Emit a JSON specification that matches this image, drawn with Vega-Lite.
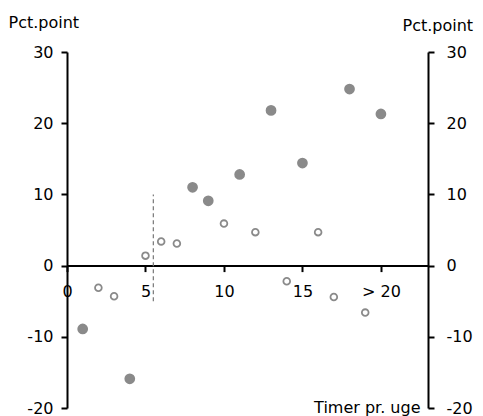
{
  "$schema": "https://vega.github.io/schema/vega-lite/v6.json",
  "width": 361,
  "height": 356,
  "autosize": "none",
  "padding": {"left": 67, "top": 52, "right": 55, "bottom": 8},
  "background": "white",
  "config": {
    "view": {"stroke": null},
    "font": "DejaVu Sans",
    "axis": {"grid": false, "labelFont": "DejaVu Sans", "titleFont": "DejaVu Sans", "labelFontSize": 16, "titleFontSize": 16, "titleFontWeight": "normal", "labelColor": "#000", "titleColor": "#000", "domainColor": "#000", "tickColor": "#000", "domainWidth": 2, "tickWidth": 2, "tickSize": 6}
  },
  "datasets": {
    "pts": [
      {"x": 1, "y": -8.9, "type": "filled"},
      {"x": 4, "y": -15.9, "type": "filled"},
      {"x": 8, "y": 11.0, "type": "filled"},
      {"x": 9, "y": 9.1, "type": "filled"},
      {"x": 11, "y": 12.8, "type": "filled"},
      {"x": 13, "y": 21.8, "type": "filled"},
      {"x": 15, "y": 14.4, "type": "filled"},
      {"x": 18, "y": 24.8, "type": "filled"},
      {"x": 20, "y": 21.3, "type": "filled"},
      {"x": 2, "y": -3.1, "type": "open"},
      {"x": 3, "y": -4.3, "type": "open"},
      {"x": 5, "y": 1.4, "type": "open"},
      {"x": 6, "y": 3.4, "type": "open"},
      {"x": 7, "y": 3.1, "type": "open"},
      {"x": 10, "y": 5.9, "type": "open"},
      {"x": 12, "y": 4.7, "type": "open"},
      {"x": 14, "y": -2.2, "type": "open"},
      {"x": 16, "y": 4.7, "type": "open"},
      {"x": 17, "y": -4.4, "type": "open"},
      {"x": 19, "y": -6.6, "type": "open"}
    ],
    "cut": [{"x": 5.5, "y": -5, "y2": 10}]
  },
  "layer": [
    {
      "data": {"name": "pts"},
      "mark": {"type": "point", "filled": false, "strokeWidth": 1.8, "opacity": 1},
      "encoding": {
        "x": {"field": "x", "type": "quantitative", "scale": {"domain": [0, 23], "nice": false, "zero": false},
          "axis": {"offset": -142.4, "values": [0, 5, 10, 15, 20], "labelPadding": 12, "labelExpr": "datum.value == 20 ? '> 20' : datum.label", "title": "Timer pr. uge", "titleAlign": "right", "titleBaseline": "alphabetic", "titleX": 353, "titleY": 147, "labelFlush": false, "labelOverlap": false}},
        "y": {"field": "y", "type": "quantitative", "scale": {"domain": [-20, 30], "nice": false},
          "axis": {"orient": "left", "values": [-20, -10, 0, 10, 20, 30], "labelPadding": 8, "labelExpr": "replace(datum.label, '\u2212', '-')", "title": "Pct.point", "titleAngle": 0, "titleAlign": "left", "titleBaseline": "alphabetic", "titleX": -59, "titleY": -25}},
        "fill": {"field": "type", "type": "nominal", "scale": {"domain": ["filled", "open"], "range": ["#8a8a8a", "#ffffff"]}, "legend": null},
        "size": {"field": "type", "type": "nominal", "scale": {"domain": ["filled", "open"], "range": [80, 45]}, "legend": null},
        "stroke": {"value": "#8a8a8a"}
      }
    },
    {
      "data": {"name": "cut"},
      "mark": {"type": "rule", "color": "#777", "strokeDash": [4, 3], "strokeWidth": 1.2},
      "encoding": {
        "x": {"field": "x", "type": "quantitative", "scale": {"domain": [0, 23], "nice": false, "zero": false},
          "axis": {"offset": -142.4, "values": [0, 5, 10, 15, 20], "labelPadding": 12, "labelExpr": "datum.value == 20 ? '> 20' : datum.label", "title": "Timer pr. uge", "titleAlign": "right", "titleBaseline": "alphabetic", "titleX": 353, "titleY": 147, "labelFlush": false, "labelOverlap": false}},
        "y": {"field": "y", "type": "quantitative", "scale": {"domain": [-20, 30], "nice": false}, "axis": {"orient": "right", "values": [-20, -10, 0, 10, 20, 30], "labelPadding": 12, "labelExpr": "replace(datum.label, '\u2212', '-')", "title": "Pct.point", "titleAngle": 0, "titleAlign": "left", "titleBaseline": "alphabetic", "titleX": -26, "titleY": -22}},
        "y2": {"field": "y2"}
      }
    }
  ],
  "resolve": {"axis": {"y": "independent"}}
}
